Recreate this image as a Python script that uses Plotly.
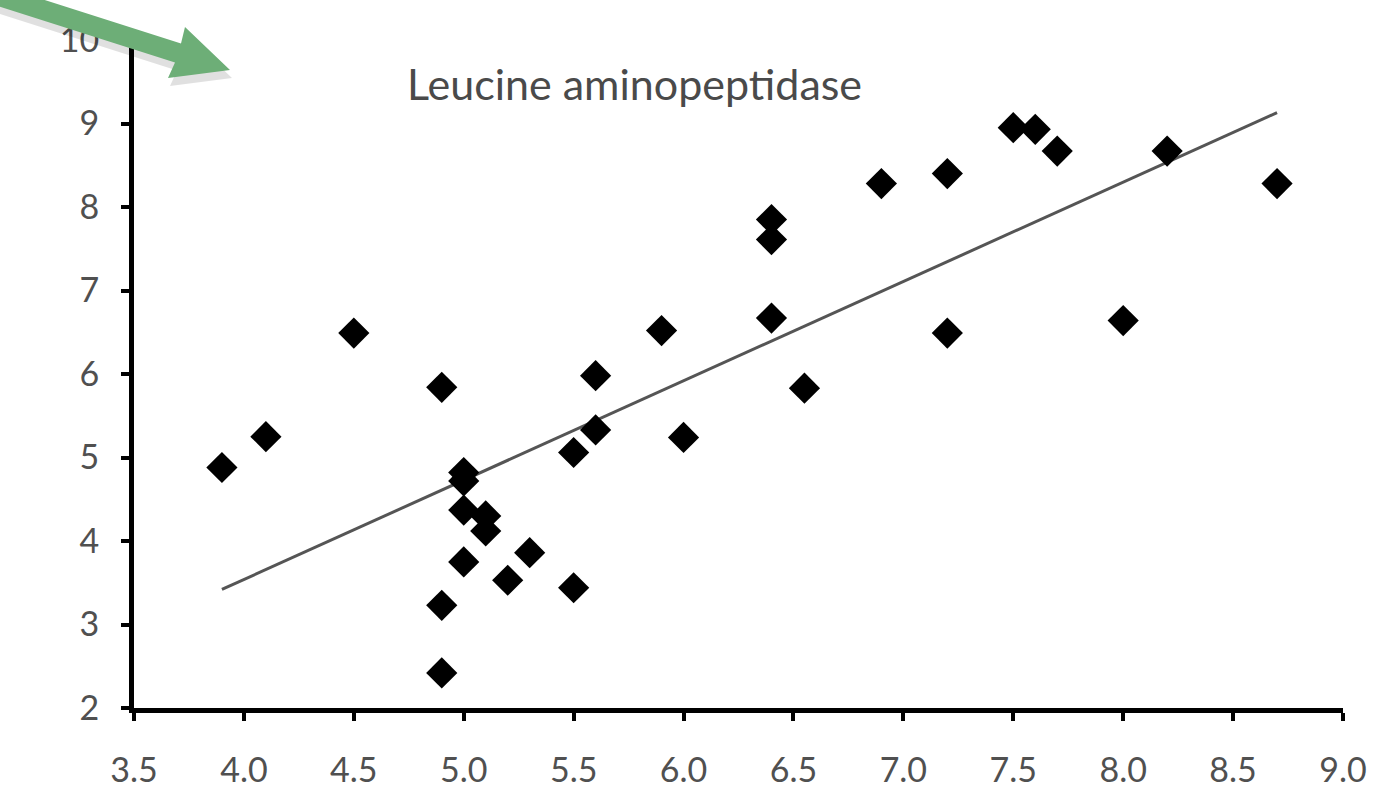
import plotly.graph_objects as go

# Data
x_values = [3.9, 4.1, 4.5, 4.9, 5.0, 5.0, 5.0, 5.1, 5.1, 5.3, 5.0, 5.2, 5.5, 4.9, 4.9,
            5.5, 5.6, 5.6, 5.9, 6.0, 6.4, 6.4, 6.4, 6.55, 6.9, 7.2, 7.2, 7.5, 7.6, 7.7,
            8.0, 8.2, 8.7]
y_values = [4.88, 5.25, 6.49, 5.84, 4.82, 4.72, 4.37, 4.30, 4.12, 3.86, 3.75, 3.53, 3.44, 3.23, 2.42,
            5.06, 5.33, 5.98, 6.52, 5.24, 7.85, 7.61, 6.67, 5.83, 8.28, 8.40, 6.49, 8.95, 8.93, 8.67,
            6.64, 8.67, 8.28]
trend_x = [3.9, 8.7]
trend_y = [3.42, 9.13]
x_ticks = [3.5, 4.0, 4.5, 5.0, 5.5, 6.0, 6.5, 7.0, 7.5, 8.0, 8.5, 9.0]
x_tick_labels = ["3.5", "4.0", "4.5", "5.0", "5.5", "6.0", "6.5", "7.0", "7.5", "8.0", "8.5", "9.0"]
y_ticks = [2, 3, 4, 5, 6, 7, 8, 9, 10]
title_text = "Leucine aminopeptidase"

W, H = 1384, 790
ML, MR, MT, MB = 134, 41, 40, 82
PW, PH = W - ML - MR, H - MT - MB

fig = go.Figure()
fig.add_trace(go.Scatter(x=trend_x, y=trend_y, mode="lines",
                         line=dict(color="#555555", width=3), hoverinfo="skip"))
fig.add_trace(go.Scatter(x=x_values, y=y_values, mode="markers",
                         marker=dict(symbol="diamond", size=24, color="black",
                                     line=dict(width=0))))

def px2paper(pts):
    return [((px - ML) / PW, 1 - (py - MT) / PH) for px, py in pts]

def path_from(pts):
    pp = px2paper(pts)
    s = "M " + " L ".join(f"{x:.5f},{y:.5f}" for x, y in pp) + " Z"
    return s

arrow_px = [(-7, -16.5), (181, 43.5), (185, 27), (230, 70), (168, 78), (175, 62.5), (-13, 2.5)]
shadow_px = [(x + 2, y + 8) for x, y in arrow_px]

fig.add_shape(type="path", xref="paper", yref="paper", path=path_from(shadow_px),
              fillcolor="rgba(0,0,0,0.12)", line=dict(width=0), layer="above")
fig.add_shape(type="path", xref="paper", yref="paper", path=path_from(arrow_px),
              fillcolor="#6dae77", line=dict(width=0), layer="above")

fig.add_annotation(text=title_text, xref="paper", yref="paper",
                   x=(634 - ML) / PW, y=1 - (84 - MT) / PH, showarrow=False,
                   xanchor="center", yanchor="middle",
                   font=dict(family="Lato", size=43, color="#4a4a4a"))

axis_common = dict(showline=True, linecolor="black", linewidth=5, showgrid=False,
                   zeroline=False, ticks="outside", ticklen=8, tickwidth=4,
                   tickcolor="black", automargin=False,
                   tickfont=dict(family="Lato", size=34, color="#505050"))

fig.update_layout(
    width=W, height=H,
    margin=dict(l=ML, r=MR, t=MT, b=MB),
    paper_bgcolor="white", plot_bgcolor="white",
    showlegend=False,
    xaxis=dict(range=[3.5, 9.0], tickvals=x_ticks, ticktext=x_tick_labels,
               ticklabelstandoff=20, **axis_common),
    yaxis=dict(range=[2, 10], tickvals=y_ticks, ticklabelstandoff=15, **axis_common),
)

fig.write_html("out.html")
